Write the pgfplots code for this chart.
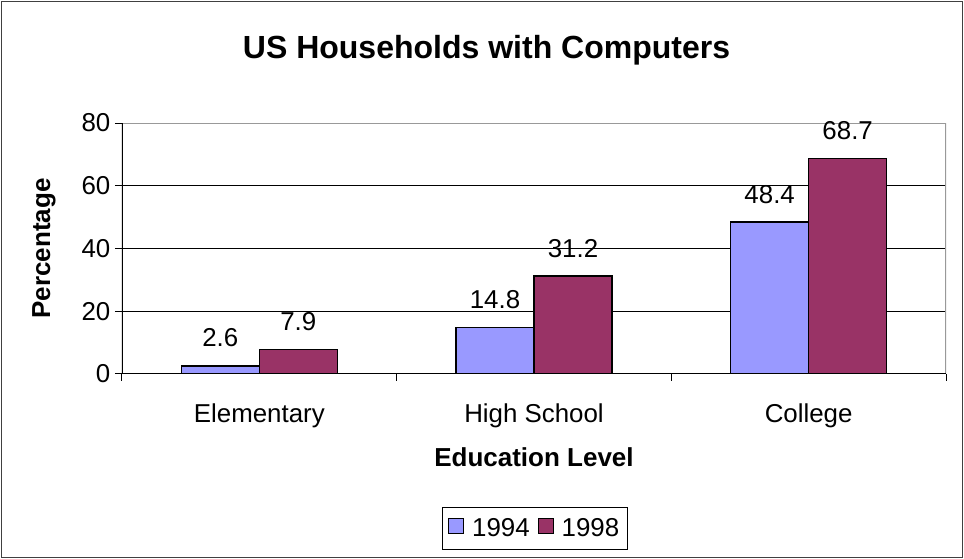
\documentclass[border=0pt]{standalone}
\usepackage{fontspec}
\setmainfont{Liberation Sans}
\usepackage{pgfplots}
\pgfplotsset{compat=1.18}
\definecolor{cA}{HTML}{9999FF}
\definecolor{cB}{HTML}{993366}
\pgfplotstableread{
x y94 y98
0 2.6 7.9
1 14.8 31.2
2 48.4 68.7
}\datatable
\begin{document}
\begin{tikzpicture}
\useasboundingbox (-91.5pt,-138.75pt) rectangle (631.5pt,280.5pt);
\draw[black!75, line width=1pt] (-90.5pt,-137.75pt) rectangle (630.5pt,279.5pt);
\begin{axis}[
  scale only axis, width=618pt, height=188.25pt,
  at={(0,0)}, anchor=south west,
  xmin=-0.5, xmax=2.5, ymin=0, ymax=80,
  ybar=0pt, bar width=58.5pt,
  /pgf/number format/assume math mode=true,
  xtick={-0.5,0.5,1.5,2.5}, xticklabels={},
  extra x ticks={0,1,2},
  extra x tick labels={Elementary,High School,College},
  extra x tick style={major tick length=0pt, tick label style={yshift=-19pt}},
  ytick={0,20,40,60,80},
  xtick pos=left, ytick pos=left,
  tick align=outside, major tick length=5.25pt,
  tick style={black, line width=0.75pt},
  tick label style={font=\fontsize{19.4}{22}\selectfont},
  ymajorgrids, grid style={black, line width=0.75pt},
  axis line style={draw=none},
  xlabel={Education Level}, ylabel={Percentage},
  label style={font=\fontsize{19.5}{22}\selectfont\bfseries},
  xlabel style={at={(axis description cs:0.5,-0.3705)}, anchor=base},
  ylabel style={at={(axis description cs:-0.0947,0.5)}, anchor=center},
  nodes near coords={\pgfmathprintnumber[fixed,fixed zerofill,precision=1]{\pgfplotspointmeta}},
  every node near coord/.append style={font=\fontsize{19.4}{22}\selectfont, black, yshift=10.25pt},
  legend columns=2,
  legend style={at={(0.5012,-0.6157)}, anchor=center, draw=black, line width=0.75pt,
    font=\fontsize{19.4}{22}\selectfont, inner ysep=6.5pt, inner xsep=4pt,
    /tikz/every odd column/.append style={column sep=4pt},
    /tikz/every even column/.append style={column sep=4pt}},
  sqlegend/.style={legend image code/.code={\draw[##1, draw=black, line width=0.75pt] (0pt,-4pt) rectangle (11.25pt,7.25pt);}},
]
\addplot[fill=cA, draw=black, line width=1pt, sqlegend] table[x=x, y=y94] {\datatable};
\addplot[fill=cB, draw=black, line width=1pt, sqlegend] table[x=x, y=y98] {\datatable};
\legend{1994,1998}
\draw[gray!80, line width=1pt] (rel axis cs:0,1) -- (rel axis cs:1,1) -- (rel axis cs:1,0);
\draw[black, line width=1pt] (rel axis cs:0,1) -- (rel axis cs:0,0) -- (rel axis cs:1,0);
\end{axis}
\node[anchor=base, font=\fontsize{24}{28}\selectfont\bfseries] at (273.4pt,236.25pt) {US Households with Computers};
\end{tikzpicture}
\end{document}
